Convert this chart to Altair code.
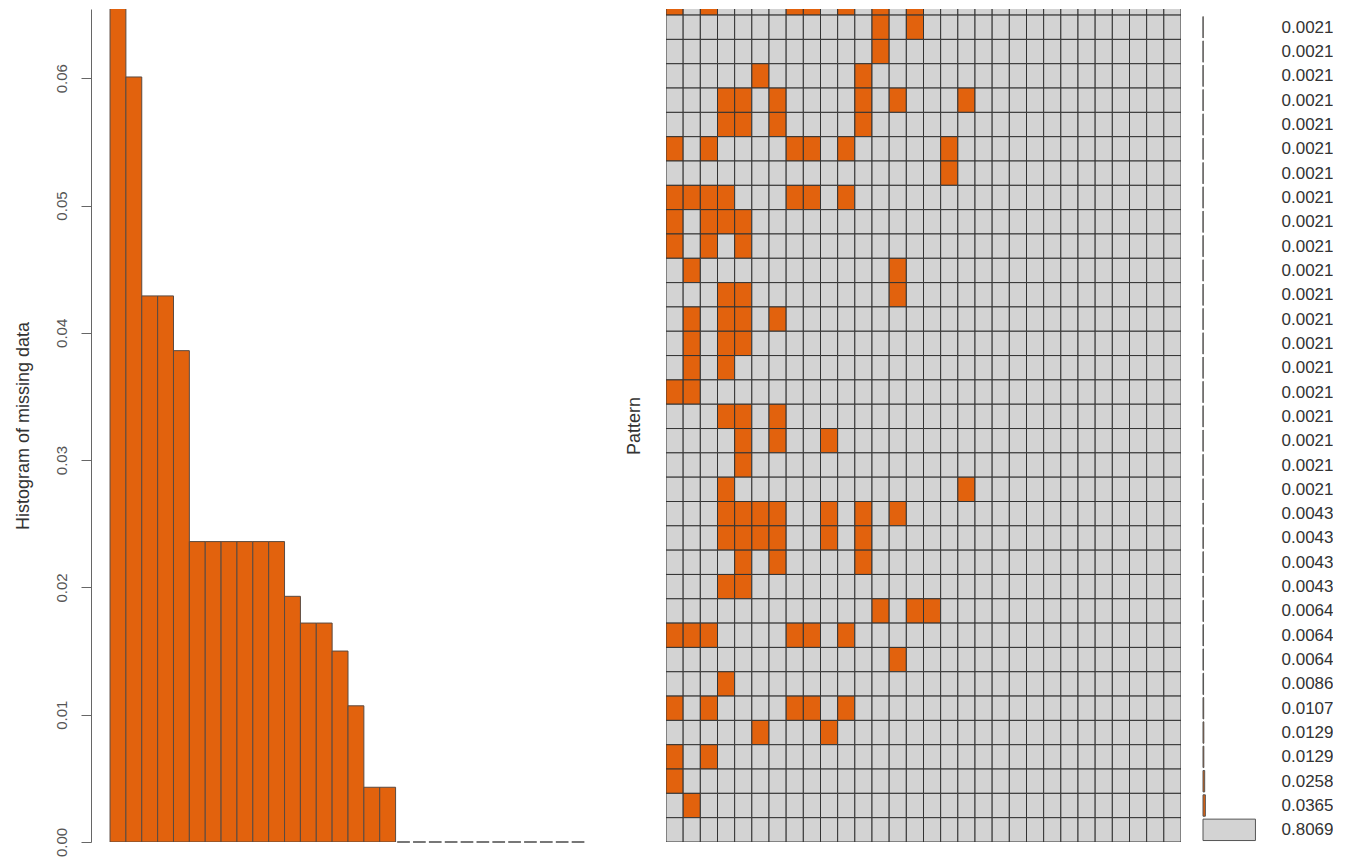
import json
import altair as alt
import pandas as pd

ORANGE = "#E2620D"
GREY = "#D3D3D3"
LINE = "#333333"

# Histogram of missing proportion per variable (sorted), 30 variables
hist_values = [0.0708, 0.0601, 0.0429, 0.0429, 0.0386, 0.0236, 0.0236, 0.0236,
               0.0236, 0.0236, 0.0236, 0.0193, 0.0172, 0.0172, 0.0150, 0.0107,
               0.0043, 0.0043, 0, 0, 0, 0, 0, 0, 0, 0, 0, 0, 0, 0]
hist_ticks = [0.00, 0.01, 0.02, 0.03, 0.04, 0.05, 0.06]

# Patterns, listed from top (partially visible) row to bottom row; numbers = missing columns
patterns = [
    [0, 2, 7, 8, 10, 12, 14],
    [12, 14],
    [12],
    [5, 11],
    [3, 4, 6, 11, 13, 17],
    [3, 4, 6, 11],
    [0, 2, 7, 8, 10, 16],
    [16],
    [0, 1, 2, 3, 7, 8, 10],
    [0, 2, 3, 4],
    [0, 2, 4],
    [1, 13],
    [3, 4, 13],
    [1, 3, 4, 6],
    [1, 3, 4],
    [1, 3],
    [0, 1],
    [3, 4, 6],
    [4, 6, 9],
    [4],
    [3, 17],
    [3, 4, 5, 6, 9, 11, 13],
    [3, 4, 5, 6, 9, 11],
    [4, 6, 11],
    [3, 4],
    [12, 14, 15],
    [0, 1, 2, 7, 8, 10],
    [13],
    [3],
    [0, 2, 7, 8, 10],
    [5, 9],
    [0, 2],
    [0],
    [1],
    [],
]
pattern_props = ["0.0021"] * 21 + ["0.0043"] * 4 + ["0.0064"] * 3 + \
    ["0.0086", "0.0107", "0.0129", "0.0129", "0.0258", "0.0365", "0.8069"]

n_vars = 30
n_rows = len(patterns)          # 35, top one only partly visible
visible_top = n_rows - 1 + 0.25

status_scale = alt.Scale(domain=["missing", "observed"], range=[ORANGE, GREY])

# ---------- histogram ----------
hist_df = pd.DataFrame({"idx": list(range(n_vars)), "value": hist_values})
x_hist = alt.Scale(domain=[-1.2, n_vars + 1.2], nice=False, zero=False)
y_hist = alt.Scale(domain=[0, 0.06544], nice=False, zero=True)

hist_bars = alt.Chart(hist_df).transform_filter("datum.value > 0").transform_calculate(
    x0="datum.idx", x1="datum.idx + 1", base="0"
).mark_bar(color=ORANGE, stroke="#5a4a40", strokeWidth=1, clip=True).encode(
    x=alt.X("x0:Q", scale=x_hist, axis=None),
    x2="x1:Q",
    y=alt.Y("value:Q", scale=y_hist,
            axis=alt.Axis(values=hist_ticks, format=".2f", title="Histogram of missing data",
                          labelAngle=-90, labelAlign="center", labelBaseline="middle",
                          labelPadding=20, tickSize=10, tickColor="#666", domainColor="#666",
                          labelColor="#555", labelFontSize=15, titleFontSize=18,
                          titleColor="#333", titlePadding=22, grid=False)),
    y2="base:Q",
)

# zero-height bars show only as short outline dashes on the baseline
hist_zero = alt.Chart(hist_df).transform_filter("datum.value == 0").transform_calculate(
    x0="datum.idx + 0.1", x1="datum.idx + 0.9"
).mark_rule(color="#777", strokeWidth=2).encode(
    x=alt.X("x0:Q", scale=x_hist, axis=None),
    x2="x1:Q",
    y=alt.Y("value:Q", scale=y_hist),
)

hist = alt.layer(hist_bars, hist_zero).properties(width=514, height=833)

# ---------- pattern grid ----------
cells = []
for t, miss in enumerate(patterns):
    r = n_rows - 1 - t
    for c in range(n_vars):
        cells.append({"c": c, "r": r, "status": "missing" if c in miss else "observed"})
cells_df = pd.DataFrame(cells)
grid = alt.Chart(cells_df).transform_calculate(
    c1="datum.c + 1", r1="datum.r + 1"
).mark_rect(stroke=LINE, strokeWidth=1, clip=True).encode(
    x=alt.X("c:Q", scale=alt.Scale(domain=[0, n_vars], nice=False, zero=False), axis=None),
    x2="c1:Q",
    y=alt.Y("r:Q", scale=alt.Scale(domain=[0, visible_top], nice=False, zero=False),
            axis=alt.Axis(title="Pattern", labels=False, ticks=False, domain=False, grid=False,
                          titleFontSize=18, titleColor="#333", titlePadding=23)),
    y2="r1:Q",
    color=alt.Color("status:N", scale=status_scale, legend=None),
).properties(width=515, height=833)

# ---------- proportion bars + labels ----------
prop_rows = []
for t in range(1, n_rows):
    r = n_rows - 1 - t
    prop_rows.append({"r": r, "prop": float(pattern_props[t]),
                      "status": "observed" if len(patterns[t]) == 0 else "missing"})
prop_df = pd.DataFrame(prop_rows)
labels_bottom_up = [pattern_props[n_rows - 1 - r] for r in range(n_rows - 1)]
right = alt.Chart(prop_df).transform_calculate(
    y0="datum.r + 0.06", y1="datum.r + 0.94", x0="0"
).mark_bar(stroke="#555", strokeWidth=1).encode(
    x=alt.X("x0:Q", scale=alt.Scale(domain=[0, 1], nice=False), axis=None),
    x2="prop:Q",
    y=alt.Y("y0:Q", scale=alt.Scale(domain=[0, visible_top], nice=False, zero=False),
            axis=alt.Axis(orient="right", values=[r + 0.5 for r in range(n_rows - 1)],
                          labelExpr=json.dumps(labels_bottom_up) + "[floor(datum.value)]",
                          ticks=False, domain=False, grid=False, title=None,
                          labelPadding=13, labelFontSize=17, labelColor="#333",
                          labelOverlap=False, labelFlush=False, labelBound=False)),
    y2="y1:Q",
    color=alt.Color("status:N", scale=status_scale, legend=None),
).properties(width=65, height=833)

chart = alt.hconcat(
    hist, alt.hconcat(grid, right, spacing=21), spacing=20
).properties(
    padding={"left": 5, "top": 1, "right": 0, "bottom": 0},
    background="white",
).configure_view(strokeWidth=0).configure_axis(
    labelFont="Liberation Sans", titleFont="Liberation Sans", titleFontWeight="normal"
)

chart.save("out.html", embed_options={"renderer": "svg", "actions": False})
